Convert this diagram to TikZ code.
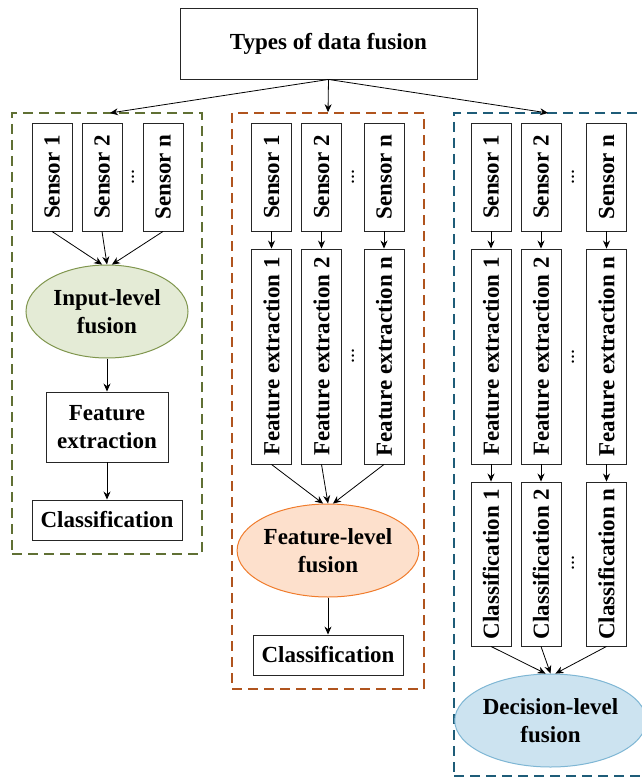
\documentclass[tikz,border=0pt]{standalone}
\usepackage{fontspec}
\setmainfont{Liberation Serif}
\usetikzlibrary{arrows.meta,shapes.geometric}

\definecolor{grpgreen}{RGB}{96,112,52}
\definecolor{grporange}{RGB}{176,84,30}
\definecolor{grpblue}{RGB}{30,92,120}
\definecolor{ellgreenfill}{RGB}{228,235,214}
\definecolor{ellgreenline}{RGB}{128,150,78}
\definecolor{ellorangefill}{RGB}{253,224,204}
\definecolor{ellorangeline}{RGB}{240,124,44}
\definecolor{ellbluefill}{RGB}{204,227,240}
\definecolor{ellblueline}{RGB}{126,182,212}

\tikzset{
  lbl/.style={font=\fontsize{23}{28}\selectfont\bfseries},
  box/.style={lbl, draw=black!85, line width=0.9pt, fill=white, inner sep=0pt, align=center},
  colbox/.style={box, minimum width=40pt},
  grpbox/.style={draw=#1, line width=1.6pt, dash pattern=on 10pt off 6pt, inner sep=0pt},
  fuse/.style={lbl, ellipse, line width=1pt, inner sep=0pt, align=center,
               minimum width=162pt, minimum height=93pt},
  arr/.style={-{Stealth[length=8pt,width=7pt]}, line width=0.8pt, black},
  vdots/.style={font=\fontsize{20}{24}\selectfont, inner sep=0pt}
}

\begin{document}
\begin{tikzpicture}[x=1pt,y=-1pt]
\useasboundingbox (0,0) rectangle (641,778);

% title
\node[box, minimum width=297pt, minimum height=71pt] (top) at (328.5,43.5) {Types of data fusion};

% group frames
\node[grpbox=grpgreen, minimum width=190pt, minimum height=441pt] (g1) at (107,333.5) {};
\node[grpbox=grporange, minimum width=192pt, minimum height=576pt] (g2) at (328,401) {};
\node[grpbox=grpblue, minimum width=200pt, minimum height=663pt] (g3) at (554,444.5) {};

\coordinate (t1) at (110,113);
\coordinate (t3) at (548,113);
\draw[arr] (top.south) -- (t1);
\draw[arr] (top.south) -- (g2.north);
\draw[arr] (top.south) -- (t3);

% ---------- input-level fusion ----------
\node[colbox, minimum height=108pt] (a1) at (52,177) {\rotatebox{90}{Sensor 1}};
\node[colbox, minimum height=108pt] (a2) at (102,177) {\rotatebox{90}{Sensor 2}};
\node[colbox, minimum height=108pt] (an) at (163,177) {\rotatebox{90}{Sensor n}};
\node[vdots] (ad) at (133,177) {\rotatebox{90}{...}};

\node[fuse, draw=ellgreenline, fill=ellgreenfill] (ea) at (107,311.5) {Input-level\\fusion};
\draw[arr] (a1.south) -- (ea.96);
\draw[arr] (a2.south) -- (ea.north);
\draw[arr] (an.south) -- (ea.84);

\node[box, minimum width=122pt, minimum height=70pt] (afe) at (107,427) {Feature\\extraction};
\node[box, minimum width=150pt, minimum height=40pt] (acl) at (107,520) {Classification};
\draw[arr] (ea.south) -- (afe.north);
\draw[arr] (afe.south) -- (acl.north);

% ---------- feature-level fusion ----------
\node[colbox, minimum height=108pt] (b1) at (271.5,177) {\rotatebox{90}{Sensor 1}};
\node[colbox, minimum height=108pt] (b2) at (321.5,177) {\rotatebox{90}{Sensor 2}};
\node[colbox, minimum height=108pt] (bn) at (384,177) {\rotatebox{90}{Sensor n}};
\node[vdots] (bd) at (353,177) {\rotatebox{90}{...}};

\node[colbox, minimum height=215pt] (bf1) at (271.5,356.5) {\rotatebox{90}{Feature extraction 1}};
\node[colbox, minimum height=215pt] (bf2) at (321.5,356.5) {\rotatebox{90}{Feature extraction 2}};
\node[colbox, minimum height=215pt] (bfn) at (384,356.5) {\rotatebox{90}{Feature extraction n}};
\node[vdots] (bfd) at (353,356) {\rotatebox{90}{...}};

\draw[arr] (b1.south) -- (bf1.north);
\draw[arr] (b2.south) -- (bf2.north);
\draw[arr] (bn.south) -- (bfn.north);

\node[fuse, draw=ellorangeline, fill=ellorangefill] (eb) at (328,550.5) {Feature-level\\fusion};
\draw[arr] (bf1.south) -- (eb.96);
\draw[arr] (bf2.south) -- (eb.north);
\draw[arr] (bfn.south) -- (eb.84);

\node[box, minimum width=150pt, minimum height=40pt] (bcl) at (328,655) {Classification};
\draw[arr] (eb.south) -- (bcl.north);

% ---------- decision-level fusion ----------
\node[colbox, minimum height=108pt] (c1) at (491,177) {\rotatebox{90}{Sensor 1}};
\node[colbox, minimum height=108pt] (c2) at (541,177) {\rotatebox{90}{Sensor 2}};
\node[colbox, minimum height=108pt] (cn) at (606.5,177) {\rotatebox{90}{Sensor n}};
\node[vdots] (cd) at (573,177) {\rotatebox{90}{...}};

\node[colbox, minimum height=215pt] (cf1) at (491,356.5) {\rotatebox{90}{Feature extraction 1}};
\node[colbox, minimum height=215pt] (cf2) at (541,356.5) {\rotatebox{90}{Feature extraction 2}};
\node[colbox, minimum height=215pt] (cfn) at (606.5,356.5) {\rotatebox{90}{Feature extraction n}};
\node[vdots] (cfd) at (573,357) {\rotatebox{90}{...}};

\node[colbox, minimum height=164pt] (cc1) at (491,564) {\rotatebox{90}{Classification 1}};
\node[colbox, minimum height=164pt] (cc2) at (541,564) {\rotatebox{90}{Classification 2}};
\node[colbox, minimum height=164pt] (ccn) at (606.5,564) {\rotatebox{90}{Classification n}};
\node[vdots] (ccd) at (573,563) {\rotatebox{90}{...}};

\draw[arr] (c1.south) -- (cf1.north);
\draw[arr] (c2.south) -- (cf2.north);
\draw[arr] (cn.south) -- (cfn.north);
\draw[arr] (cf1.south) -- (cc1.north);
\draw[arr] (cf2.south) -- (cc2.north);
\draw[arr] (cfn.south) -- (ccn.north);

\node[fuse, draw=ellblueline, fill=ellbluefill] (ec) at (550.5,720.5) {Decision-level\\fusion};
\draw[arr] (cc1.south) -- (ec.96);
\draw[arr] (cc2.south) -- (ec.north);
\draw[arr] (ccn.south) -- (ec.84);
\end{tikzpicture}
\end{document}
